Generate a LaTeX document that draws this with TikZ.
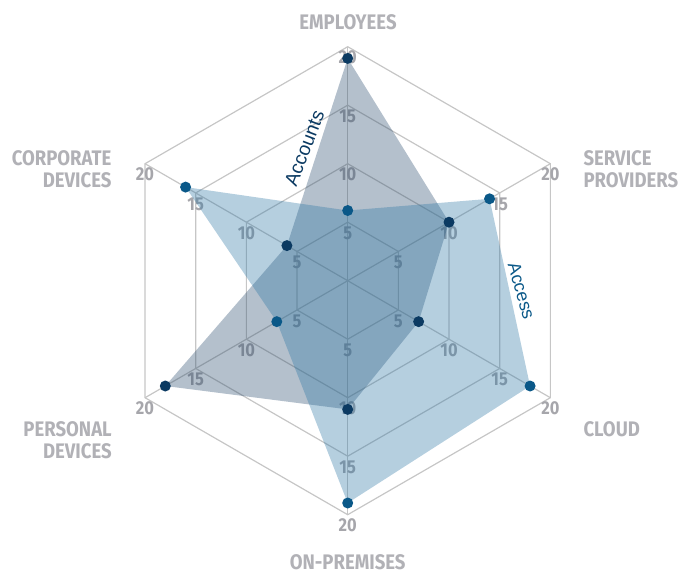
\documentclass[tikz,border=0pt]{standalone}
\usepackage{fontspec}
\setmainfont{Liberation Sans}
\newfontfamily\axisfont[FakeStretch=0.88]{Fira Sans}

\definecolor{gridgray}{RGB}{198,198,198}
\definecolor{ticktext}{RGB}{166,166,171}
\definecolor{cattext}{RGB}{177,177,182}
\definecolor{accfill}{RGB}{41,75,109}
\definecolor{accdot}{RGB}{11,58,98}
\definecolor{accessfill}{RGB}{44,118,164}
\definecolor{accessdot}{RGB}{10,88,136}

\begin{document}
\begin{tikzpicture}[x=0.75pt,y=0.75pt,yscale=-1,xscale=1,
  grid/.style={color=gridgray, line width=0.9},
  ticklbl/.style={inner sep=0pt, anchor=center, text=ticktext, font=\axisfont\bfseries\fontsize{14}{14}\selectfont},
  catlbl/.style={inner sep=0pt, text=cattext, font=\axisfont\bfseries\fontsize{15.8}{16.5}\selectfont},
  dotA/.style={fill=accdot, draw=none},
  dotB/.style={fill=accessdot, draw=none}]
\useasboundingbox (0,0) rectangle (682,571);

%Shape: Hexagon [id:ring20]
\draw [grid] (347.7,46.7) -- (550.35,163.7) -- (550.35,397.7) -- (347.7,514.7) -- (145.05,397.7) -- (145.05,163.7) -- cycle ;
%Shape: Hexagon [id:ring15]
\draw [grid] (347.7,105.2) -- (499.69,192.95) -- (499.69,368.45) -- (347.7,456.2) -- (195.71,368.45) -- (195.71,192.95) -- cycle ;
%Shape: Hexagon [id:ring10]
\draw [grid] (347.7,163.7) -- (449.02,222.2) -- (449.02,339.2) -- (347.7,397.7) -- (246.38,339.2) -- (246.38,222.2) -- cycle ;
%Shape: Hexagon [id:ring5]
\draw [grid] (347.7,222.2) -- (398.36,251.45) -- (398.36,309.95) -- (347.7,339.2) -- (297.04,309.95) -- (297.04,251.45) -- cycle ;
%Straight Lines [id:spokes]
\draw [grid] (347.7,46.7) -- (347.7,514.7) ;
\draw [grid] (550.35,163.7) -- (145.05,397.7) ;
\draw [grid] (550.35,397.7) -- (145.05,163.7) ;

% Tick labels, employees
\node [ticklbl] (tE5) at (347.7,233.2) {5};
\node [ticklbl] (tE10) at (347.7,174.7) {10};
\node [ticklbl] (tE15) at (347.7,116.2) {15};
\node [ticklbl] (tE20) at (347.7,57.7) {20};
% Tick labels, service providers
\node [ticklbl] (tS5) at (398.36,262.45) {5};
\node [ticklbl] (tS10) at (449.02,233.2) {10};
\node [ticklbl] (tS15) at (499.69,203.95) {15};
\node [ticklbl] (tS20) at (550.35,174.7) {20};
% Tick labels, cloud
\node [ticklbl] (tC5) at (398.36,320.95) {5};
\node [ticklbl] (tC10) at (449.02,350.2) {10};
\node [ticklbl] (tC15) at (499.69,379.45) {15};
\node [ticklbl] (tC20) at (550.35,408.7) {20};
% Tick labels, on-premises
\node [ticklbl] (tO5) at (347.7,350.2) {5};
\node [ticklbl] (tO10) at (347.7,408.7) {10};
\node [ticklbl] (tO15) at (347.7,467.2) {15};
\node [ticklbl] (tO20) at (347.7,525.7) {20};
% Tick labels, personal devices
\node [ticklbl] (tP5) at (297.04,320.95) {5};
\node [ticklbl] (tP10) at (246.38,350.2) {10};
\node [ticklbl] (tP15) at (195.71,379.45) {15};
\node [ticklbl] (tP20) at (145.05,408.7) {20};
% Tick labels, corporate devices
\node [ticklbl] (tK5) at (297.04,262.45) {5};
\node [ticklbl] (tK10) at (246.38,233.2) {10};
\node [ticklbl] (tK15) at (195.71,203.95) {15};
\node [ticklbl] (tK20) at (145.05,174.7) {20};

%Shape: Polygon [id:accounts]
\fill [accfill, fill opacity=0.35] (347.7,58.4) -- (449.02,222.2) -- (418.63,321.65) -- (347.7,409.4) -- (165.32,386) -- (286.9,245.6) -- cycle ;
%Shape: Polygon [id:access]
\fill [accessfill, fill opacity=0.35] (347.7,210.5) -- (489.55,198.8) -- (530.08,386) -- (347.7,503) -- (276.77,321.65) -- (185.58,187.1) -- cycle ;

%Shape: Circle [id:accounts dots]
\fill [dotA] (347.7,58.4) circle [radius=5.5] ;
\fill [dotA] (449.02,222.2) circle [radius=5.5] ;
\fill [dotA] (418.63,321.65) circle [radius=5.5] ;
\fill [dotA] (347.7,409.4) circle [radius=5.5] ;
\fill [dotA] (165.32,386) circle [radius=5.5] ;
\fill [dotA] (286.9,245.6) circle [radius=5.5] ;
%Shape: Circle [id:access dots]
\fill [dotB] (347.7,210.5) circle [radius=5.5] ;
\fill [dotB] (489.55,198.8) circle [radius=5.5] ;
\fill [dotB] (530.08,386) circle [radius=5.5] ;
\fill [dotB] (347.7,503) circle [radius=5.5] ;
\fill [dotB] (276.77,321.65) circle [radius=5.5] ;
\fill [dotB] (185.58,187.1) circle [radius=5.5] ;

% Text Node
\node [inner sep=0pt, rotate=69, text=accdot, font=\fontsize{14.5}{14.5}\selectfont] (accountslbl) at (304.5,148.5) {Accounts};
% Text Node
\node [inner sep=0pt, rotate=-74, text=accessdot, font=\fontsize{13.5}{13.5}\selectfont] (accesslbl) at (521.5,291) {Access};

% Text Node
\node [catlbl, anchor=center] (employees) at (348,22.5) {EMPLOYEES};
% Text Node
\node [catlbl, anchor=east, align=right] (corporate) at (111.7,169) {CORPORATE\\DEVICES};
% Text Node
\node [catlbl, anchor=west, align=left] (service) at (583.3,169) {SERVICE\\PROVIDERS};
% Text Node
\node [catlbl, anchor=east, align=right] (personal) at (112,440) {PERSONAL\\DEVICES};
% Text Node
\node [catlbl, anchor=west] (cloud) at (583.3,429) {CLOUD};
% Text Node
\node [catlbl, anchor=center] (onprem) at (347.7,562) {ON-PREMISES};

\end{tikzpicture}
\end{document}
